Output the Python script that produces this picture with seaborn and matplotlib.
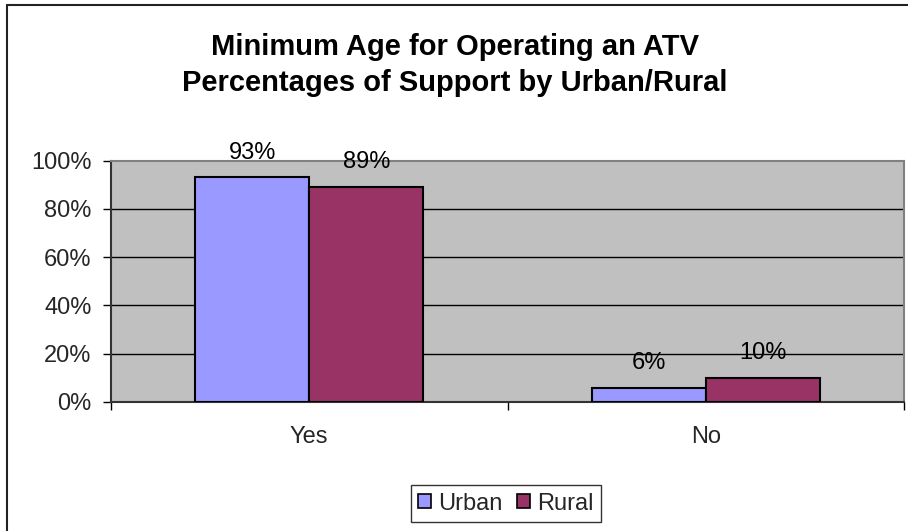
import pandas as pd
import seaborn as sns
import matplotlib.pyplot as plt
from matplotlib.lines import Line2D

# Data
answers = ["Yes", "No"]
groups = ["Urban", "Rural"]
urban_pct = [93, 6]
rural_pct = [89, 10]
y_ticks = [0, 20, 40, 60, 80, 100]

df = pd.DataFrame({
    "answer": answers * 2,
    "group": ["Urban"] * 2 + ["Rural"] * 2,
    "pct": urban_pct + rural_pct,
})

sns.set_style("white")
plt.rcParams["font.family"] = ["Liberation Sans", "DejaVu Sans"]

fig = plt.figure(figsize=(9.08, 5.31), dpi=100)
W, H = 908, 531
ax = fig.add_axes([111 / W, (H - 402) / H, 793 / W, 241.5 / H])
ax.set_facecolor("#C0C0C0")

sns.barplot(data=df, x="answer", y="pct", hue="group", order=answers,
            hue_order=groups, palette=["#9999FF", "#993366"], width=0.575,
            edgecolor="black", linewidth=1.5, saturation=1, ax=ax, zorder=3)

# Labels above bars
for cont in ax.containers:
    for bar in cont:
        h = bar.get_height()
        ax.annotate(f"{h:.0f}%", (bar.get_x() + bar.get_width() / 2, h),
                    xytext=(0, 13.5), textcoords="offset points",
                    ha="center", va="baseline", fontsize=17, color="black")

ax.set_xlim(-0.5, 1.5)
ax.set_ylim(0, 100)
ax.set_yticks(y_ticks)
ax.set_yticklabels([f"{t}%" for t in y_ticks])
ax.set_xticks([0, 1])
ax.set_xticks([-0.5, 0.5, 1.5], minor=True)
ax.tick_params(axis="x", which="major", length=0, pad=17, labelsize=17)
ax.tick_params(axis="x", which="minor", length=6, width=1, color="black",
               direction="out", bottom=True)
ax.tick_params(axis="y", length=6, width=1, color="black", direction="out",
               pad=8, labelsize=17, left=True)
ax.set_xlabel("")
ax.set_ylabel("")

for y in y_ticks[1:-1]:
    ax.axhline(y, color="black", linewidth=1, zorder=1)

ax.spines["left"].set_color("#333333")
ax.spines["bottom"].set_color("#333333")
ax.spines["top"].set_color("#808080")
ax.spines["right"].set_color("#808080")
for s in ax.spines.values():
    s.set_linewidth(1.5)

# Legend
handles = [plt.Rectangle((0, 0), 1, 1, facecolor=c, edgecolor="black", linewidth=1.2)
           for c in ["#9999FF", "#993366"]]
ax.legend(handles, groups, loc="center", bbox_to_anchor=(506 / W, (H - 503.5) / H),
          bbox_transform=fig.transFigure, ncol=2, fontsize=17, frameon=True,
          fancybox=False, edgecolor="black", handlelength=0.55, handleheight=0.55,
          handletextpad=0.3, columnspacing=0.6, borderpad=0.3, borderaxespad=0)
ax.get_legend().get_frame().set_linewidth(1)

# Title
fig.text(455 / W, 1 - 47 / H, "Minimum Age for Operating an ATV",
         ha="center", va="center", fontsize=21, fontweight="bold", color="black")
fig.text(455 / W, 1 - 83 / H, "Percentages of Support by Urban/Rural",
         ha="center", va="center", fontsize=21, fontweight="bold", color="black")

# Chart area border
fig.add_artist(Line2D([7 / W, 7 / W], [0, 1 - 5 / H], transform=fig.transFigure,
                      color="#222222", linewidth=1.5))
fig.add_artist(Line2D([7 / W, 1], [1 - 5 / H, 1 - 5 / H], transform=fig.transFigure,
                      color="#222222", linewidth=1.5))

fig.savefig("out.png", dpi=100, facecolor="white")
